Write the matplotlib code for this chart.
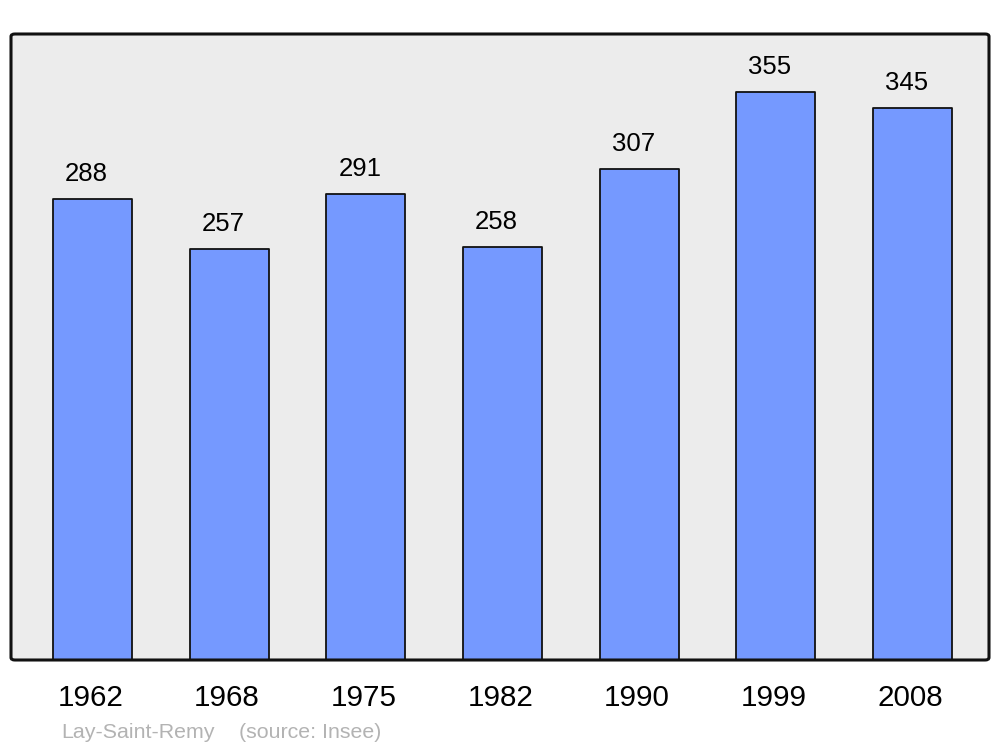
import matplotlib
matplotlib.use("Agg")
import matplotlib.pyplot as plt
from matplotlib.patches import FancyBboxPatch

years = ["1962", "1968", "1975", "1982", "1990", "1999", "2008"]
population = [288, 257, 291, 258, 307, 355, 345]
place = "Lay-Saint-Remy"
source = "(source: Insee)"

plt.rcParams['font.family'] = ['Liberation Sans', 'DejaVu Sans']

fig = plt.figure(figsize=(10, 7.47), dpi=100)
ax = fig.add_axes([0.011, 87 / 747, 0.978, 626 / 747])
ax.patch.set_visible(False)
for s in ax.spines.values():
    s.set_visible(False)

bg = FancyBboxPatch((0, 0), 1, 1, boxstyle="round,pad=0,rounding_size=0.004",
                    transform=ax.transAxes, facecolor="#ececec", edgecolor="none",
                    zorder=0, clip_on=False)
ax.add_patch(bg)
frame = FancyBboxPatch((0, 0), 1, 1, boxstyle="round,pad=0,rounding_size=0.004",
                       transform=ax.transAxes, facecolor="none", edgecolor="#111111",
                       linewidth=2.2, zorder=5, clip_on=False)
ax.add_patch(frame)

x = list(range(len(years)))
bars = ax.bar(x, population, width=0.578, color="#7599ff", edgecolor="#111111",
              linewidth=1.3, zorder=2)
for b in bars:
    b.set_joinstyle("round")

ax.set_xlim(-0.596, 6.56)
ax.set_ylim(0, 626 / 1.6)
ax.set_xticks([])
ax.set_yticks([])

for xi, v in zip(x, population):
    ax.annotate(str(v), (xi, v), xytext=(-4.3, 13), textcoords="offset points",
                ha="center", va="baseline", fontsize=18.5, color="black", zorder=3)

for xi, y in zip(x, years):
    ax.annotate(y, (xi, 0), xycoords=("data", "axes fraction"), xytext=(-1.5, -33),
                textcoords="offset points", ha="center", va="baseline",
                fontsize=21.3, color="black", annotation_clip=False)

fig.text(61 / 1000, 1 - 737.5 / 747, place, ha="left", va="baseline",
         fontsize=15.4, color="#b3b3b3")
fig.text(239 / 1000, 1 - 737.5 / 747, source, ha="left", va="baseline",
         fontsize=15.4, color="#b3b3b3")

fig.savefig("out.png", dpi=100, facecolor="white")
